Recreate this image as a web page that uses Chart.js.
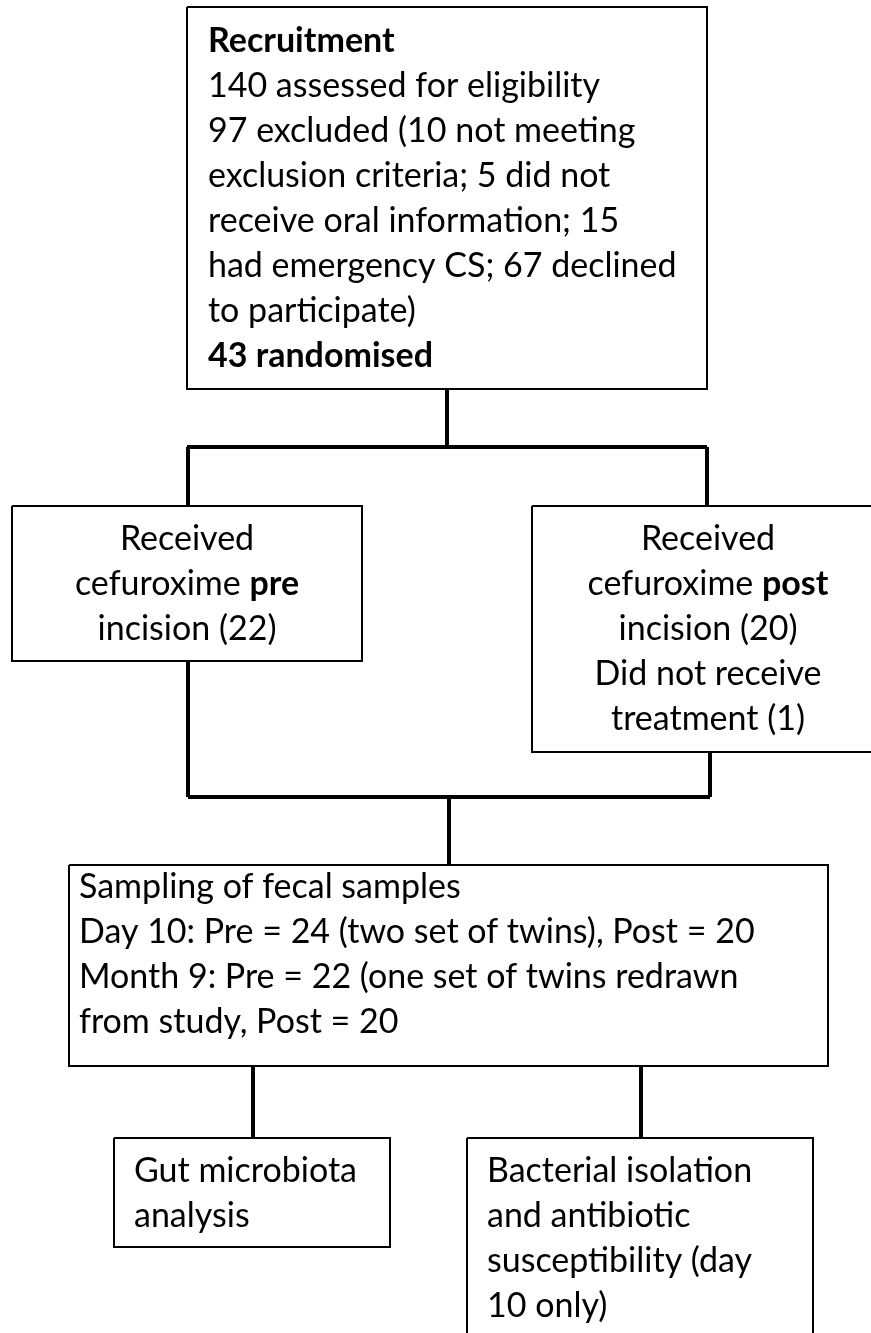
<!DOCTYPE html>
<html>
<head>
<meta charset="utf-8">
<script src="https://cdn.jsdelivr.net/npm/chart.js@4.4.0/dist/chart.umd.min.js"></script>
<style>
  html, body { margin: 0; padding: 0; background: #fff; }
  #wrap { width: 871px; height: 1333px; }
</style>
</head>
<body>
<div id="wrap"><canvas id="flow" width="871" height="1333"></canvas></div>
<script>
// box texts (** marks bold)
var recruitText = [
    "**Recruitment**",
    "140 assessed for eligibility",
    "97 excluded (10 not meeting",
    "exclusion criteria; 5 did not",
    "receive oral information; 15",
    "had emergency CS; 67 declined",
    "to participate)",
    "**43 randomised**"
];
var preText = ["Received", "cefuroxime **pre**", "incision (22)"];
var postText = ["Received", "cefuroxime **post**", "incision (20)", "Did not receive", "treatment (1)"];
var samplingText = [
    "Sampling of fecal samples",
    "Day 10: Pre = 24 (two set of twins), Post = 20",
    "Month 9: Pre = 22 (one set of twins redrawn",
    "from study, Post = 20"
];
var gutText = ["Gut microbiota", "analysis"];
var bactText = ["Bacterial isolation", "and antibiotic", "susceptibility (day", "10 only)"];

// layout of the diagram, in page units (x: 0..871, y: 0..1333 top-down)
var layout = {
    boxes: [
        {x0: 187, x1: 707, y0: 7, y1: 389, text: recruitText, align: "left", tx: 208, ty: 52},
        {x0: 12, x1: 362, y0: 506, y1: 661, text: preText, align: "center", tx: 187, ty: 550},
        {x0: 532, x1: 886, y0: 506, y1: 752, text: postText, align: "center", tx: 708, ty: 550},
        {x0: 69, x1: 828, y0: 865, y1: 1066, text: samplingText, align: "left", tx: 79, ty: 898},
        {x0: 114, x1: 390, y0: 1138, y1: 1247, text: gutText, align: "left", tx: 134, ty: 1182},
        {x0: 467, x1: 813, y0: 1138, y1: 1345, text: bactText, align: "left", tx: 487, ty: 1182}
    ],
    links: [
        [[447, 389], [447, 447]],
        [[187, 447], [707, 447]],
        [[188, 447], [188, 506]],
        [[707, 447], [707, 506]],
        [[188, 661], [188, 797]],
        [[710, 752], [710, 797]],
        [[188, 797], [710, 797]],
        [[449, 797], [449, 865]],
        [[253, 1066], [253, 1138]],
        [[641, 1066], [641, 1138]]
    ],
    lineGap: 45
};

var FONT = "Lato";
var FONT_SIZE = 34;

var datasets = [];
layout.boxes.forEach(function (b) {
    datasets.push({
        data: [{x: b.x0, y: b.y0}, {x: b.x1, y: b.y0}, {x: b.x1, y: b.y1}, {x: b.x0, y: b.y1}, {x: b.x0, y: b.y0}],
        showLine: true, borderColor: "#000", borderWidth: 2, pointRadius: 0, fill: false, tension: 0
    });
});
layout.links.forEach(function (l) {
    datasets.push({
        data: [{x: l[0][0], y: l[0][1]}, {x: l[1][0], y: l[1][1]}],
        showLine: true, borderColor: "#000", borderWidth: 4, pointRadius: 0, fill: false,
        borderCapStyle: "butt"
    });
});

function splitBold(line) {
    var parts = line.split("**");
    var segs = [];
    for (var i = 0; i < parts.length; i++) {
        if (parts[i] !== "") segs.push({t: parts[i], bold: i % 2 === 1});
    }
    return segs;
}

var textPlugin = {
    id: "boxText",
    afterDatasetsDraw: function (chart) {
        var ctx = chart.ctx;
        var xs = chart.scales.x, ys = chart.scales.y;
        ctx.save();
        ctx.fillStyle = "#000";
        ctx.textBaseline = "alphabetic";
        ctx.textAlign = "left";
        layout.boxes.forEach(function (b) {
            b.text.forEach(function (line, i) {
                var segs = splitBold(line);
                var w = 0;
                segs.forEach(function (s) {
                    ctx.font = (s.bold ? "bold " : "") + FONT_SIZE + "px " + FONT;
                    s.w = ctx.measureText(s.t).width;
                    w += s.w;
                });
                var px = xs.getPixelForValue(b.tx);
                var py = ys.getPixelForValue(b.ty + i * layout.lineGap);
                if (b.align === "center") px -= w / 2;
                segs.forEach(function (s) {
                    ctx.font = (s.bold ? "bold " : "") + FONT_SIZE + "px " + FONT;
                    ctx.fillText(s.t, px, py);
                    px += s.w;
                });
            });
        });
        ctx.restore();
    }
};

new Chart(document.getElementById("flow").getContext("2d"), {
    type: "scatter",
    data: {datasets: datasets},
    options: {
        responsive: false,
        animation: false,
        devicePixelRatio: 1,
        layout: {padding: 0},
        plugins: {legend: {display: false}, tooltip: {enabled: false}},
        scales: {
            x: {type: "linear", min: 0, max: 871, display: false},
            y: {type: "linear", min: 0, max: 1333, reverse: true, display: false}
        }
    },
    plugins: [textPlugin]
});
</script>
</body>
</html>
